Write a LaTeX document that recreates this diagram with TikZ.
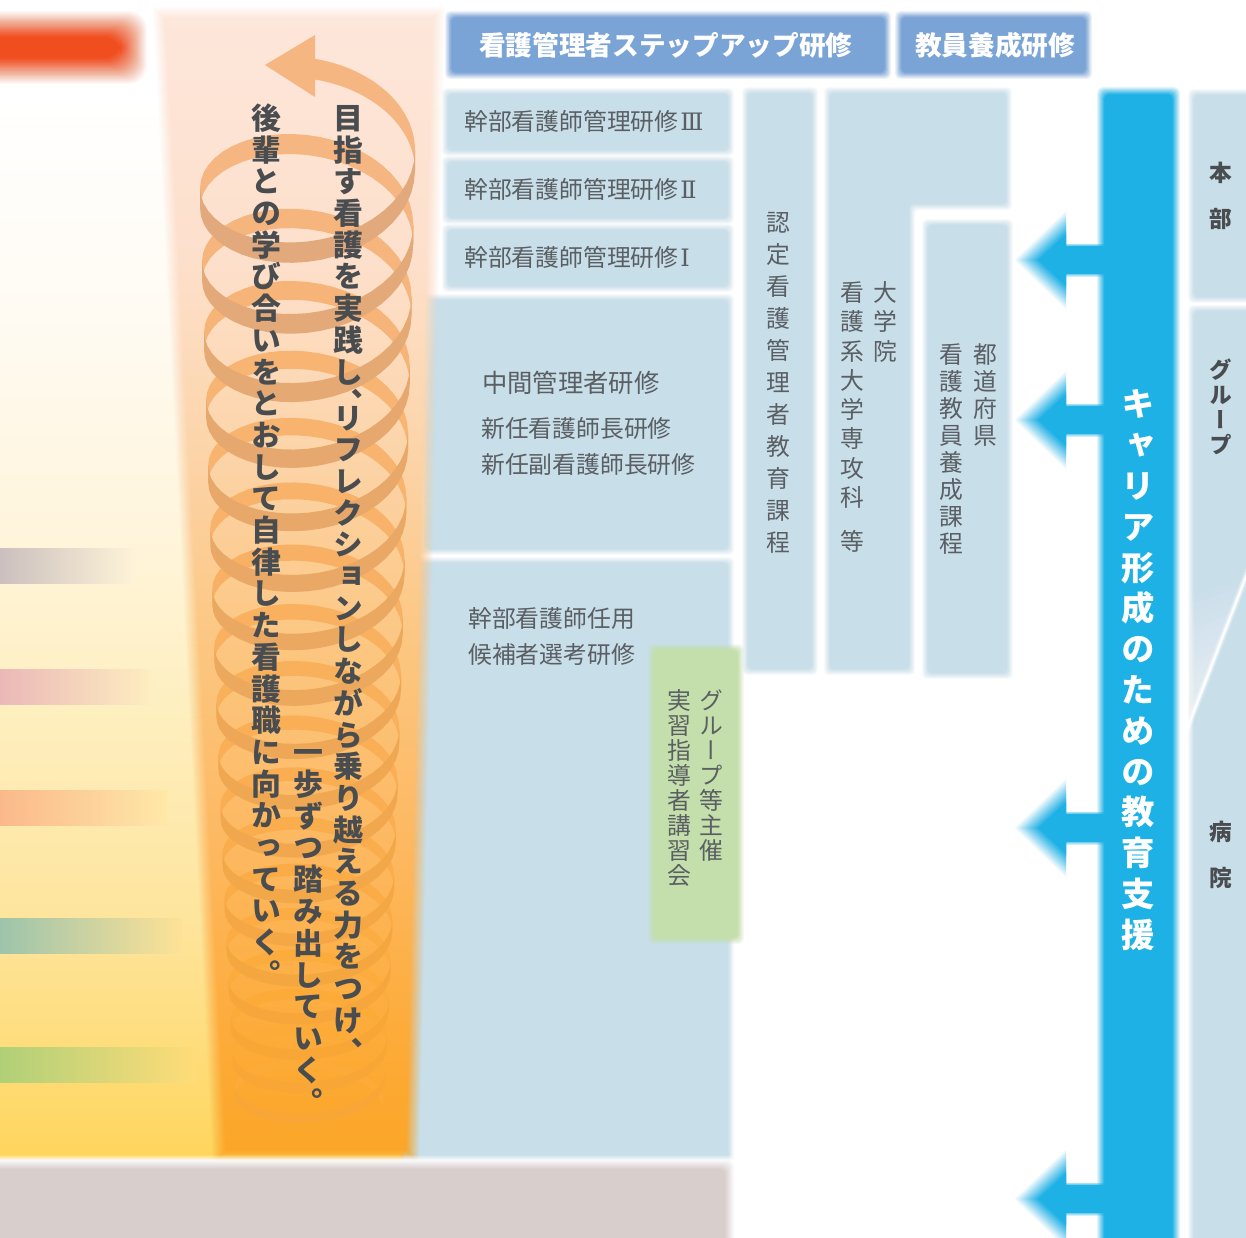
\documentclass[tikz,border=0pt]{standalone}
\usepackage{fontspec}
\usepackage{xcolor}
\newfontfamily\jph{Noto Sans CJK JP}
\newfontfamily\jpv[RawFeature={+vert}]{Noto Sans CJK JP}
\newfontfamily\numerals{DejaVu Serif}
\definecolor{paleblue}{HTML}{C8DEE9}
\definecolor{headblue}{HTML}{7BA4D6}
\definecolor{barblue}{HTML}{1EB1E6}
\definecolor{leaf}{HTML}{C4DFAB}
\definecolor{stone}{HTML}{D8CFCD}
\definecolor{redbar}{HTML}{F04E1F}
\definecolor{inkthin}{HTML}{5A5F63}
\definecolor{inkbold}{HTML}{4A4D50}
\definecolor{ribbackA}{HTML}{F6B682}
\definecolor{ribbackB}{HTML}{FCAA38}
\definecolor{ribfrontA}{HTML}{E2A97D}
\definecolor{ribfrontB}{HTML}{F8A636}
% column and ground gradients
\definecolor{ca}{HTML}{FDE6DA}\definecolor{cb}{HTML}{FDE0CC}\definecolor{cc}{HTML}{FCD4A8}
\definecolor{cd}{HTML}{FCC680}\definecolor{ce}{HTML}{FDB860}\definecolor{cf}{HTML}{FDAB38}
\definecolor{cg}{HTML}{FBA628}
\pgfdeclareverticalshading{columnfill}{100bp}{
  color(0bp)=(cg); color(25bp)=(cg); color(29.7bp)=(cf); color(38.4bp)=(ce);
  color(47.1bp)=(cd); color(55.8bp)=(cc); color(64.5bp)=(cb); color(75bp)=(ca); color(100bp)=(ca)}
\definecolor{ga}{HTML}{FFFFFF}\definecolor{gb}{HTML}{FFFBF4}\definecolor{gc}{HTML}{FFF5DC}
\definecolor{gd}{HTML}{FEEEBC}\definecolor{ge}{HTML}{FEE49A}\definecolor{gf}{HTML}{FED96C}
\definecolor{gg}{HTML}{FFD45A}
\pgfdeclareverticalshading{groundfill}{100bp}{
  color(0bp)=(gg); color(25bp)=(gg); color(27.7bp)=(gf); color(35.6bp)=(ge);
  color(44.9bp)=(gd); color(54.1bp)=(gc); color(64.8bp)=(gb); color(74.5bp)=(ga); color(100bp)=(ga)}
% one upright-stacked column of characters
\newdimen\vpitch
\def\vtestten{、}
\def\vtestgap{\vhalfgap}
\let\vhalfgap\relax
\makeatletter
\def\vcell{%
  \ifx\vc\vtestgap
    \kern.5\vpitch
  \else
    \setbox0=\hbox to 1.2em{\hss\vc\hss}\ht0=0pt \dp0=0pt
    \kern\dimexpr.5\vpitch+.38em\relax
    \box0
    \ifx\vc\vtestten
      \kern\dimexpr-.05\vpitch-.38em\relax
    \else
      \kern\dimexpr.5\vpitch-.38em\relax
    \fi
  \fi}
\newcommand\vstack[2]{\vpitch=#1\dimexpr.75pt\relax
  \vbox{\offinterlineskip\@tfor\vc:=#2\do{\vcell}}}
\makeatother
% soft-edged shapes: stacked translucent insets give a linear fade
\newcommand\softbox[6]{% blur,x0,y0,x1,y1,colour
  \pgfmathtruncatemacro\nl{max(10,1.4*#1)}
  \pgfmathtruncatemacro\nm{\nl-1}
  \foreach \i in {0,...,\nm}{
    \pgfmathsetmacro\d{\i*#1/\nl}
    \pgfmathsetmacro\al{1/(\nl-\i)}
    \fill[#6,fill opacity=\al,rounded corners=#1*0.5pt]
      (#2+\d,#3+\d) rectangle (#4-\d,#5-\d);
  }}
\newcommand\softarrow[1]{% vertical centre of a left-pointing arrow
  \foreach \i in {0,...,11}{
    \pgfmathsetmacro\d{\i*1.5}
    \pgfmathsetmacro\al{1/(12-\i)}
    \fill[barblue,fill opacity=\al]
      (1015+1.41*\d,#1) -- (1066,#1-49+1.41*\d) -- (1066,#1+49-1.41*\d) -- cycle;
  }
  \foreach \i in {0,...,4}{
    \pgfmathsetmacro\al{1/(5-\i)}
    \fill[barblue,fill opacity=\al] (1064,#1-16.5+\i*.7) rectangle (1106,#1+16.5-\i*.7);
  }}
\tikzset{
  x=0.75pt,y=-0.75pt,
  declare function={
    rv(\v)=135+76*\v-1.27*\v*\v;
    rb(\u)=73-2.2*\u;
    ry(\u)=rv(\u-.75)+rb(\u)+rb(\u)*sin(360*\u);
    rx(\u)=307+.15*\u+(108-1.9*\u)*cos(360*\u);
    rt(\u)=20.5-.65*\u;
  },
  hlabel/.style={anchor=west,inner sep=0pt,yshift=-3pt,text height=.88em,text depth=.12em,text=inkthin,
    font=\jph\fontsize{17.85}{18}\selectfont},
  vlabel/.style={anchor=north,inner sep=0pt,text=inkthin,font=\jpv\fontsize{17.85}{18}\selectfont},
  vbold/.style={anchor=north,inner sep=0pt,text=inkbold,font=\jpv\bfseries\fontsize{22.4}{22}\selectfont},
  headlabel/.style={anchor=west,inner sep=0pt,yshift=-4pt,text height=.88em,text depth=.12em,text=white,
    font=\jph\bfseries\fontsize{20}{20}\selectfont},
}
\newcommand\ribbon[3]{% from, to, fill colour
  \fill[#3] plot[domain=#1:#2,samples=25,variable=\u] ({rx(\u)},{ry(\u)})
    -- plot[domain=#2:#1,samples=25,variable=\u] ({rx(\u)},{ry(\u)+rt(\u)}) -- cycle;}
\newcommand\rnum[1]{\hspace{.08em}{\numerals\fontsize{18}{18}\selectfont #1}}
\begin{document}
\begin{tikzpicture}
\useasboundingbox (0,0) rectangle (1246,1238);
\clip (0,0) rectangle (1246,1238);
\fill[white] (0,0) rectangle (1246,1238);

% ground gradient at the left, running on under the column
\path[shade,shading=groundfill] (-2,80) rectangle (405,1162);

% fading level bands
\shade[left color={rgb,255:red,203;green,192;blue,190},right color={rgb,255:red,255;green,244;blue,216}] (0,548) rectangle (136,583);
\shade[left color={rgb,255:red,235;green,184;blue,184},right color={rgb,255:red,254;green,238;blue,192}] (0,669) rectangle (152,704);
\shade[left color={rgb,255:red,251;green,185;blue,138},right color={rgb,255:red,254;green,232;blue,168}] (0,790) rectangle (167,825);
\shade[left color={rgb,255:red,157;green,196;blue,171},right color={rgb,255:red,254;green,226;blue,150}] (0,918) rectangle (182,953);
\shade[left color={rgb,255:red,176;green,208;blue,120},right color={rgb,255:red,255;green,220;blue,120}] (0,1047) rectangle (195,1082);
\softbox{27}{-40}{11}{147}{84}{redbar}

% pale training blocks
\softbox{7}{442}{88}{734}{156}{paleblue}
\softbox{7}{442}{156}{734}{224}{paleblue}
\softbox{7}{442}{224}{734}{292}{paleblue}
\softbox{7}{420}{294}{734}{555}{paleblue}
\softbox{7}{400}{557}{734}{1170}{paleblue}
\softbox{7}{742}{87}{818}{675}{paleblue}
\foreach \i in {0,...,9}{
  \pgfmathsetmacro\d{\i*.7}
  \pgfmathsetmacro\al{1/(10-\i)}
  \fill[paleblue,fill opacity=\al,rounded corners=3pt]
    (824+\d,87+\d) -- (1012-\d,87+\d) -- (1012-\d,210-\d) -- (915-\d,210-\d)
    -- (915-\d,675-\d) -- (824+\d,675-\d) -- cycle;
}
\softbox{7}{922}{219}{1013}{679}{paleblue}
\softbox{7}{1188}{89}{1265}{303}{paleblue}
\softbox{7}{1188}{305}{1265}{1265}{paleblue}

% diagonal parting line in the right-hand column, with its fade
\foreach \i in {0,...,13}{
  \pgfmathsetmacro\w{58-\i*3.5}
  \pgfmathsetmacro\h{130-\i*8.5}
  \fill[white,fill opacity=.06] (1188,727) -- (1188+\w,727-\w*2.586) -- (1188,727-\h) -- cycle;
}
\draw[white,line width=5pt,opacity=.25] (1186,732) -- (1250,566);
\draw[white,line width=3pt,opacity=.45] (1186,732) -- (1250,566);
\draw[white,line width=1.3pt] (1186,732) -- (1250,566);

% green block
\softbox{7}{648}{644}{744}{944}{leaf}

% heading blocks
\softbox{7}{445}{11}{891}{79}{headblue}
\softbox{7}{895}{11}{1092}{79}{headblue}

% rising column
\foreach \i in {0,...,13}{
  \pgfmathsetmacro\d{\i*1.0}
  \pgfmathsetmacro\al{1/(14-\i)}
  \path[shade,shading=columnfill,fill opacity=\al]
    (153+\d,7+\d) -- (445-\d,7+\d) -- (419-\d,1163-\d) -- (213+\d,1163-\d) -- cycle;
}

% spiral ribbon: back halves first, then the front halves over them
\fill[ribbackA] (265,65) -- (315,35) -- (315,97) -- cycle;
\ribbon{-0.24}{0}{ribbackA}
\foreach \n in {0,...,17}{
  \pgfmathsetmacro\p{min(100,100*\n/15)}
  \pgfmathsetmacro\a{\n+.5}\pgfmathsetmacro\b{\n+1}
  \ribbon{\a}{\b}{ribbackB!\p!ribbackA}
}
\foreach \n in {0,...,17}{
  \pgfmathsetmacro\p{min(100,100*\n/15)}
  \pgfmathsetmacro\a{\n}\pgfmathsetmacro\b{\n+.5}
  \ribbon{\a}{\b}{ribfrontB!\p!ribfrontA}
}

% ground line under the chart
\softbox{6}{-20}{1155}{760}{1176}{white}
\softbox{10}{-30}{1160}{734}{1275}{stone}

% career-support bar and arrows
\softarrow{260}
\softarrow{420}
\softarrow{828}
\softarrow{1199}
\softbox{8}{1097}{87}{1180}{1275}{barblue}

% headings
\node[headlabel] (hstep) at (479,45) {看護管理者ステップアップ研修};
\node[headlabel] (hedu) at (915,45) {教員養成研修};

% horizontal labels
\node[hlabel] (k3) at (464,121) {幹部看護師管理研修\rnum{Ⅲ}};
\node[hlabel] (k2) at (464,189) {幹部看護師管理研修\rnum{Ⅱ}};
\node[hlabel] (k1) at (464,257) {幹部看護師管理研修\rnum{Ⅰ}};
\node[hlabel,font=\jph\fontsize{19}{19}\selectfont] (chu) at (482,383) {中間管理者研修};
\node[hlabel] (shin) at (481,428) {新任看護師長研修};
\node[hlabel] (fuku) at (481,464) {新任副看護師長研修};
\node[hlabel] (nin) at (468,618) {幹部看護師任用};
\node[hlabel] (sen) at (468,654) {候補者選考研修};

% vertical labels in the blocks
\node[vlabel] (gr) at (711,687.5) {\vstack{25}{グループ等主催}};
\node[vlabel] (jis) at (679,687.5) {\vstack{25}{実習指導者講習会}};
\node[vlabel] (nintei) at (778.5,206) {\vstack{32}{認定看護管理者教育課程}};
\node[vlabel] (daiin) at (885,277.5) {\vstack{29.3}{大学院}};
\node[vlabel] (kanke) at (852,277.5) {\vstack{29.3}{看護系大学専攻科\vhalfgap 等}};
\node[vlabel] (todo) at (985,340.5) {\vstack{27}{都道府県}};
\node[vlabel] (kyoin) at (951,340.5) {\vstack{27}{看護教員養成課程}};

% spiral captions
\node[vbold] (t1) at (348,102) {\vstack{31.7}{目指す看護を実践し、リフレクションしながら乗り越える力をつけ、}};
\node[vbold] (t2) at (308,736) {\vstack{31.8}{一歩ずつ踏み出していく。}};
\node[vbold] (t3) at (266,102) {\vstack{31.7}{後輩との学び合いをとおして自律した看護職に向かっていく。}};

% bar caption
\node[vbold,text=white,font=\jpv\bfseries\fontsize{25}{25}\selectfont] (bar) at (1138,383.6) {\vstack{40.8}{キャリア形成のための教育支援}};

% right-hand column captions
\node[vbold,font=\jpv\bfseries\fontsize{17}{17}\selectfont] (ho) at (1221,150) {\vstack{46}{本部}};
\node[vbold,font=\jpv\bfseries\fontsize{17}{17}\selectfont] (gu) at (1221,357.5) {\vstack{25}{グループ}};
\node[vbold,font=\jpv\bfseries\fontsize{17}{17}\selectfont] (by) at (1221,809) {\vstack{46}{病院}};
\end{tikzpicture}
\end{document}
